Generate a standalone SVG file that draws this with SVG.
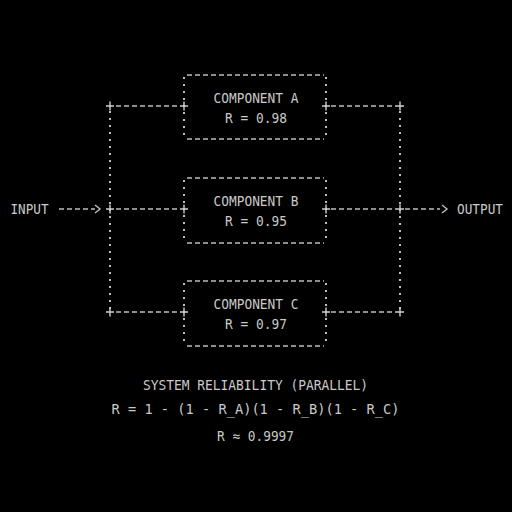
<svg xmlns="http://www.w3.org/2000/svg" width="512" height="512" viewBox="0 0 512 512">
<style>
text{font-family:"DejaVu Sans Mono","Liberation Mono",monospace;font-size:14px;fill:#c9c9c9;text-anchor:middle}
.h{stroke:#bdbdbd;stroke-width:1.5;stroke-dasharray:5 3;fill:none}
.v{stroke:#bdbdbd;stroke-width:2;stroke-dasharray:2 5;fill:none}
.p{stroke:#cfcfcf;stroke-width:1.4;fill:none}
.ar{stroke:#bdbdbd;stroke-width:1.4;fill:none}
</style>
<defs>
<path id="plus" class="p" d="M-4 0H4M0 -4.5V4.5"/>
</defs>
<rect width="512" height="512" fill="#000"/>
<g id="connectors">
<path class="v" d="M110 111V309M400 111V309"/>
<path class="h" d="M116 106H180M116 209H180M116 312H180M331 106H396M331 209H396M331 312H396"/>
<path class="h" d="M59 209H95M405 209H440"/>
<path class="ar" d="M95 205L100 209L95 213M442 205L447 209L442 213"/>
<use href="#plus" x="110" y="106"/><use href="#plus" x="400" y="106"/>
<use href="#plus" x="110" y="209"/><use href="#plus" x="400" y="209"/>
<use href="#plus" x="110" y="312"/><use href="#plus" x="400" y="312"/>
</g>
<g id="input"><text x="10.5" y="214" style="text-anchor:start" textLength="38" lengthAdjust="spacingAndGlyphs">INPUT</text></g>
<g id="output"><text x="457" y="214" style="text-anchor:start" textLength="46" lengthAdjust="spacingAndGlyphs">OUTPUT</text></g>
<g id="compA">
<path class="h" d="M187 75H324M187 139H324"/>
<path class="v" d="M184 77V138M326 77V138"/>
<use href="#plus" x="184" y="106"/><use href="#plus" x="326" y="106"/>
<text x="256" y="103" textLength="85" lengthAdjust="spacingAndGlyphs">COMPONENT A</text>
<text x="256" y="123" textLength="62" lengthAdjust="spacingAndGlyphs">R = 0.98</text>
</g>
<g id="compB">
<path class="h" d="M187 178H324M187 243H324"/>
<path class="v" d="M184 180V242M326 180V242"/>
<use href="#plus" x="184" y="209"/><use href="#plus" x="326" y="209"/>
<text x="256" y="206" textLength="85" lengthAdjust="spacingAndGlyphs">COMPONENT B</text>
<text x="256" y="226" textLength="62" lengthAdjust="spacingAndGlyphs">R = 0.95</text>
</g>
<g id="compC">
<path class="h" d="M187 281H324M187 346H324"/>
<path class="v" d="M184 283V345M326 283V345"/>
<use href="#plus" x="184" y="312"/><use href="#plus" x="326" y="312"/>
<text x="256" y="309" textLength="85" lengthAdjust="spacingAndGlyphs">COMPONENT C</text>
<text x="256" y="329" textLength="62" lengthAdjust="spacingAndGlyphs">R = 0.97</text>
</g>
<g id="summary">
<text x="255.5" y="390" textLength="225" lengthAdjust="spacingAndGlyphs">SYSTEM RELIABILITY (PARALLEL)</text>
<text x="255.5" y="414" textLength="288" lengthAdjust="spacingAndGlyphs">R = 1 - (1 - R_A)(1 - R_B)(1 - R_C)</text>
<text x="255.5" y="441" textLength="77" lengthAdjust="spacingAndGlyphs">R ≈ 0.9997</text>
</g>
</svg>
